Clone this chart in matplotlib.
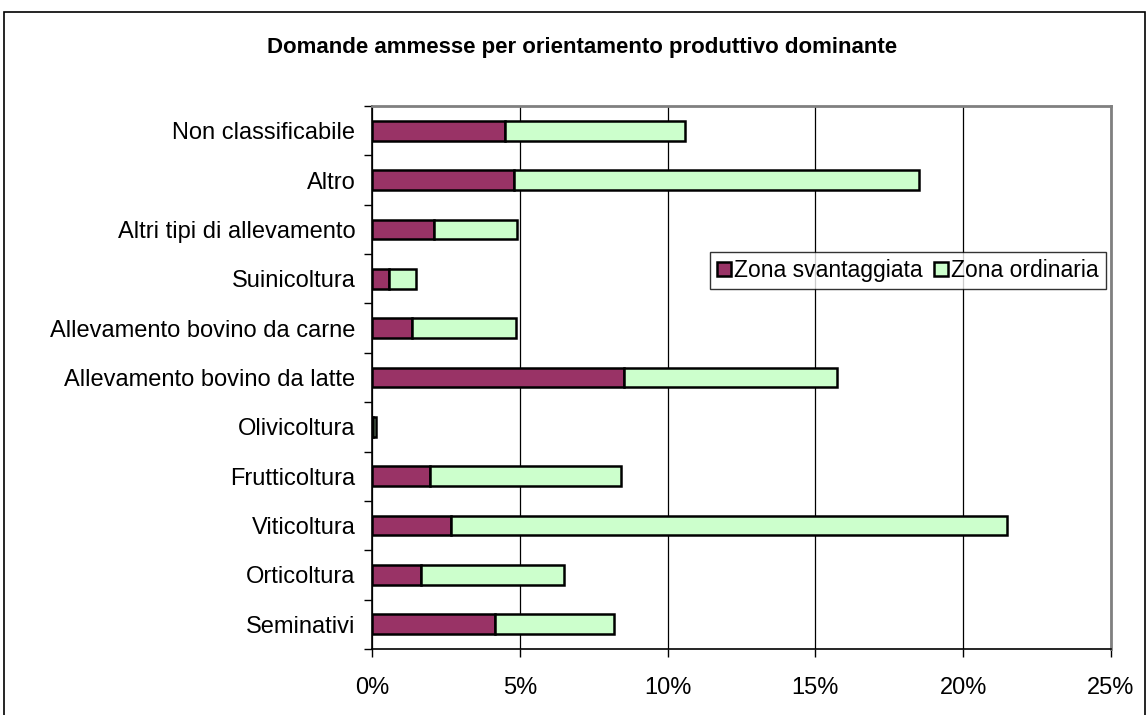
import numpy as np
import matplotlib
matplotlib.use("Agg")
import matplotlib.pyplot as plt
from matplotlib.patches import Rectangle
from matplotlib.ticker import FuncFormatter

plt.rcParams['font.family'] = ['Liberation Sans', 'DejaVu Sans']

## Dati (in %)
categorie = ['Seminativi', 'Orticoltura', 'Viticoltura', 'Frutticoltura', 'Olivicoltura',
             'Allevamento bovino da latte', 'Allevamento bovino da carne', 'Suinicoltura',
             'Altri tipi di allevamento', 'Altro', 'Non classificabile']
zona_svantaggiata = [4.17, 1.66, 2.66, 1.95, 0.05, 8.53, 1.37, 0.57, 2.10, 4.80, 4.50]
zona_ordinaria = [4.01, 4.83, 18.82, 6.49, 0.10, 7.21, 3.49, 0.93, 2.80, 13.70, 6.10]
serie = ['Zona svantaggiata', 'Zona ordinaria']
x_ticks = [0, 5, 10, 15, 20, 25]

fig = plt.figure(figsize=(11.47, 7.15), dpi=100)
ax = fig.add_axes([372/1147, 1-649/715, (1111-372)/1147, (649-106)/715])

y = np.arange(len(categorie))
ax.barh(y, zona_svantaggiata, height=0.4, color='#993366', edgecolor='black',
        linewidth=1.8, label=serie[0], zorder=3)
ax.barh(y, zona_ordinaria, left=zona_svantaggiata, height=0.4, color='#ccffcc',
        edgecolor='black', linewidth=1.8, label=serie[1], zorder=3)

ax.set_xlim(0, 25)
ax.set_ylim(-0.5, len(categorie) - 0.5)
ax.set_xticks(x_ticks)
ax.xaxis.set_major_formatter(FuncFormatter(lambda v, p: '%d%%' % v))
ax.set_yticks(y)
ax.set_yticklabels(categorie)
ax.set_yticks(np.arange(-0.5, len(categorie), 1), minor=True)
ax.tick_params(axis='y', which='major', length=0, pad=12, labelsize=17)
ax.tick_params(axis='y', which='minor', length=6, width=1, direction='out')
ax.tick_params(axis='x', length=6, width=1, direction='out', pad=14, labelsize=17)

ax.grid(axis='x', color='black', linewidth=0.9, zorder=0)
for s in ['top', 'right']:
    ax.spines[s].set_color('#808080')
    ax.spines[s].set_linewidth(2)
for s in ['left', 'bottom']:
    ax.spines[s].set_color('black')
    ax.spines[s].set_linewidth(1.2)

leg = ax.legend(loc='upper left', bbox_to_anchor=((710-372)/(1111-372), 1-(252-106)/(649-106)),
                ncol=2, frameon=True, fancybox=False, shadow=False, fontsize=16.5,
                handlelength=0.6, handleheight=0.6, handletextpad=0.15, columnspacing=0.5,
                borderpad=0.3, borderaxespad=0)
leg.get_frame().set_edgecolor('black')
leg.get_frame().set_linewidth(1)

fig.text(582/1147, 1-47/715, 'Domande ammesse per orientamento produttivo dominante',
         ha='center', va='center', fontsize=16, fontweight='bold')

# cornice esterna del grafico
fig.patches.append(Rectangle((4/1147, -0.05), (1145-4)/1147, 1.05-12/715,
                             transform=fig.transFigure, fill=False,
                             edgecolor='black', linewidth=1.2))

plt.savefig('out.png', dpi=100)
